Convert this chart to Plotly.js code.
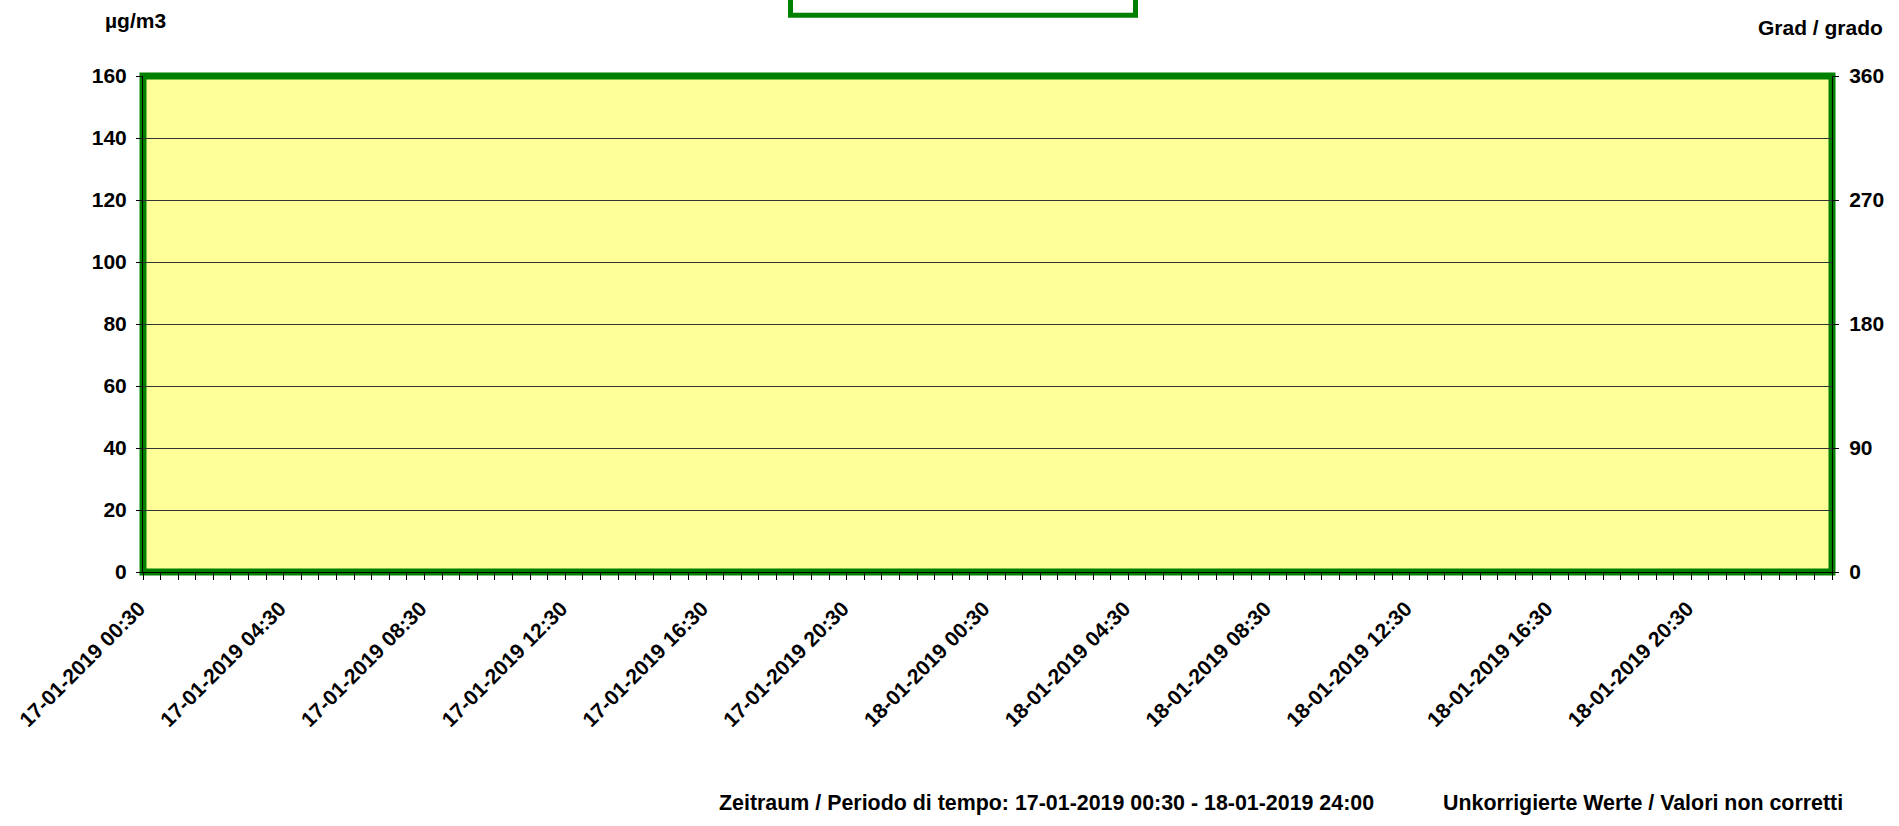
<!DOCTYPE html>
<html>
<head>
<meta charset="utf-8">
<script src="https://cdn.plot.ly/plotly-3.0.1.min.js"></script>
<style>
html,body{margin:0;padding:0;background:#fff;}
#chart{width:1899px;height:826px;}
</style>
</head>
<body>
<div id="chart"></div>
<script>
// ---- data ----
var xRange = ['2019-01-17 00:30', '2019-01-19 00:30'];
var tickVals = ['2019-01-17 00:30','2019-01-17 04:30','2019-01-17 08:30','2019-01-17 12:30',
                '2019-01-17 16:30','2019-01-17 20:30','2019-01-18 00:30','2019-01-18 04:30',
                '2019-01-18 08:30','2019-01-18 12:30','2019-01-18 16:30','2019-01-18 20:30'];
var tickLabels = ['17-01-2019 00:30','17-01-2019 04:30','17-01-2019 08:30','17-01-2019 12:30',
                  '17-01-2019 16:30','17-01-2019 20:30','18-01-2019 00:30','18-01-2019 04:30',
                  '18-01-2019 08:30','18-01-2019 12:30','18-01-2019 16:30','18-01-2019 20:30'];
var leftTicks = [0, 20, 40, 60, 80, 100, 120, 140, 160];
var rightTicks = [0, 90, 180, 270, 360];
var times = [];          // no measurements in this period
var concValues = [];     // µg/m3
var dirValues = [];      // Grad / grado

var fontFam = 'Arial, "Liberation Sans", sans-serif';

var traces = [
  {x: times, y: concValues, type: 'scatter', mode: 'lines', yaxis: 'y', showlegend: false,
   line: {color: '#0000ff'}},
  {x: times, y: dirValues, type: 'scatter', mode: 'markers', yaxis: 'y2', showlegend: false,
   marker: {color: '#ff0000'}}
];

var L = 143, R = 1832, T = 76, B = 572, W = 1899, H = 826;
function px(xp){ return (xp - L) / (R - L); }
function py(yp){ return (B - yp) / (B - T); }

var tickFont = {family: fontFam, size: 21, weight: 'bold', color: '#000'};
var noteFont = {family: fontFam, size: 21.4, weight: 'bold', color: '#000'};

var layout = {
  width: W, height: H,
  margin: {l: L, r: W - R, t: T, b: H - B, pad: 0},
  paper_bgcolor: '#ffffff',
  plot_bgcolor: '#ffff99',
  showlegend: false,
  font: {family: fontFam, color: '#000', size: 21, weight: 'bold'},
  xaxis: {
    type: 'date',
    range: xRange,
    tickmode: 'array',
    tickvals: tickVals,
    ticktext: tickLabels,
    tickangle: -45,
    tickfont: tickFont,
    ticklabelstandoff: 8,
    ticklabelshift: -4,
    ticks: 'outside', ticklen: 7, tickwidth: 1, tickcolor: '#000',
    minor: {dtick: 1800000, tick0: '2019-01-17 00:30', ticks: 'outside', ticklen: 7, tickwidth: 1, tickcolor: '#000', showgrid: false},
    showgrid: false, zeroline: false,
    showline: true, linecolor: '#000', linewidth: 1,
    fixedrange: true
  },
  yaxis: {
    range: [0, 160],
    tickmode: 'array', tickvals: leftTicks,
    tickfont: tickFont,
    ticklabelstandoff: 5,
    ticks: 'outside', ticklen: 6, tickwidth: 1, tickcolor: '#000',
    showgrid: true, gridcolor: '#333333', gridwidth: 1,
    zeroline: false,
    showline: true, linecolor: '#000', linewidth: 1,
    fixedrange: true
  },
  yaxis2: {
    range: [0, 360], overlaying: 'y', side: 'right',
    tickmode: 'array', tickvals: rightTicks,
    tickfont: tickFont,
    ticklabelstandoff: 6,
    ticks: 'outside', ticklen: 6, tickwidth: 1, tickcolor: '#000',
    showgrid: false, zeroline: false,
    showline: true, linecolor: '#000', linewidth: 1,
    fixedrange: true
  },
  shapes: [
    // plot frame
    {type: 'rect', xref: 'paper', yref: 'paper', x0: 0, x1: 1, y0: 0, y1: 1,
     line: {color: '#008000', width: 7}, fillcolor: 'rgba(0,0,0,0)', layer: 'below'},
    // legend box (top, cut off)
    {type: 'rect', xref: 'paper', yref: 'paper', x0: px(790.5), x1: px(1135.5), y0: py(15.3), y1: py(-30),
     line: {color: '#008000', width: 5}, fillcolor: '#ffffff', layer: 'above'}
  ],
  annotations: [
    {text: 'µg/m3', xref: 'paper', yref: 'paper', x: px(103), y: py(29), xanchor: 'left', yanchor: 'bottom',
     showarrow: false, font: {family: fontFam, size: 21, weight: 'bold', color: '#000'}, yshift: -5},
    {text: 'Grad / grado', xref: 'paper', yref: 'paper', x: px(1885), y: py(36), xanchor: 'right', yanchor: 'bottom',
     showarrow: false, font: {family: fontFam, size: 21, weight: 'bold', color: '#000'}, yshift: -5},
    {text: 'Zeitraum / Periodo di tempo: 17-01-2019 00:30 - 18-01-2019 24:00', xref: 'paper', yref: 'paper',
     x: px(717), y: py(812), xanchor: 'left', yanchor: 'bottom', showarrow: false, yshift: -5,
     font: noteFont},
    {text: 'Unkorrigierte Werte / Valori non corretti', xref: 'paper', yref: 'paper',
     x: px(1845), y: py(812), xanchor: 'right', yanchor: 'bottom', showarrow: false, yshift: -5,
     font: noteFont}
  ]
};

Plotly.newPlot('chart', traces, layout, {displayModeBar: false, staticPlot: true});
</script>
</body>
</html>
